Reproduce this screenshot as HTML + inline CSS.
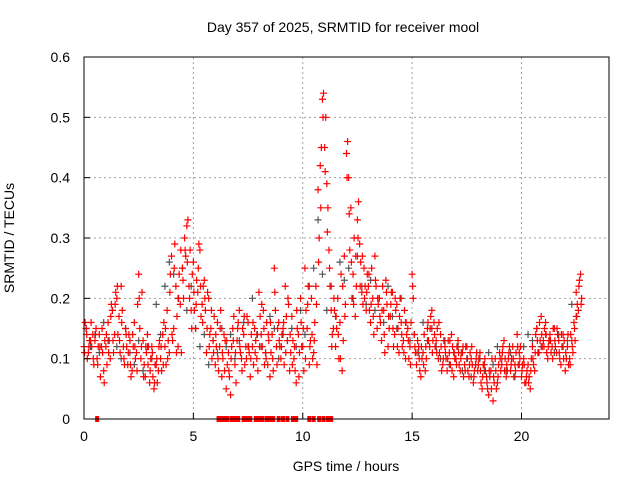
<!DOCTYPE html>
<html><head><meta charset="utf-8"><style>
body{margin:0;background:#fff;}
svg{display:block;font-family:"Liberation Sans",sans-serif;}
</style></head><body>
<svg id="chart" width="640" height="480" viewBox="0 0 640 480">
<rect x="0" y="0" width="640" height="480" fill="#fff"/>
<text x="343" y="32" font-size="14" text-anchor="middle" fill="#000">Day 357 of 2025, SRMTID for receiver mool</text>
<g id="grid"></g>
<g id="gray"></g>
<g id="red"></g>
<rect x="84" y="57" width="525" height="362" fill="none" stroke="#000" stroke-width="1"/>
<g id="ticks"></g>
<text x="14" y="238" font-size="14" text-anchor="middle" transform="rotate(-90 14 238)">SRMTID / TECUs</text>
<text x="346" y="471" font-size="14" text-anchor="middle">GPS time / hours</text>
</svg>
<script>
const xTicks=[0,5,10,15,20];
const yTicks=[0,0.1,0.2,0.3,0.4,0.5,0.6];
const yTickLabels=["0","0.1","0.2","0.3","0.4","0.5","0.6"];
const redA=[0.12,0.15,0.11,0.13,0.14,0.13,0.10,0.14,0.12,0.08,0.12,0.16,0.10,0.18,0.14,0.20,0.17,0.22,0.12,0.15,0.09,0.13,0.08,0.16,0.11,0.24,0.10,0.13,0.07,0.14,0.06,0.12,0.05,0.09,0.08,0.10,0.14,0.12,0.18,0.11,0.27,0.15,0.22,0.12,0.19,0.25,0.30,0.32,0.22,0.18,0.26,0.15,0.21,0.28,0.19,0.23,0.11,0.20,0.15,0.13,0.09,0.16,0.12,0.07,0.14,0.05,0.11,0.04,0.15,0.09,0.13,0.18,0.10,0.14,0.12,0.16,0.07,0.12,0.15,0.10,0.21,0.14,0.18,0.11,0.09,0.07,0.14,0.25,0.12,0.16,0.10,0.15,0.22,0.13,0.08,0.17,0.10,0.06,0.14,0.20,0.12,0.25,0.15,0.09,0.20,0.11,0.22,0.38,0.42,0.53,0.45,0.39,0.28,0.18,0.15,0.12,0.20,0.16,0.08,0.27,0.44,0.40,0.35,0.24,0.17,0.33,0.29,0.21,0.25,0.18,0.22,0.16,0.20,0.27,0.15,0.20,0.13,0.18,0.23,0.12,0.17,0.21,0.14,0.19,0.11,0.16,0.13,0.10,0.15,0.12,0.24,0.14,0.09,0.12,0.07,0.11,0.08,0.15,0.12,0.18,0.16,0.13,0.10,0.14,0.09,0.12,0.08,0.11,0.14,0.07,0.10,0.13,0.08,0.11,0.09,0.12,0.07,0.10,0.06,0.09,0.08,0.11,0.05,0.09,0.07,0.04,0.08,0.03,0.10,0.06,0.11,0.09,0.13,0.07,0.10,0.08,0.12,0.09,0.14,0.11,0.07,0.10,0.06,0.09,0.05,0.12,0.08,0.15,0.11,0.17,0.13,0.16,0.10,0.14,0.12,0.15,0.11,0.13,0.09,0.14,0.08,0.12,0.10,0.13,0.16,0.21,0.18,0.24];
const redB=[0.16,0.10,0.13,0.12,0.09,0.15,0.12,0.07,0.11,0.13,0.09,0.13,0.19,0.11,0.21,0.14,0.11,0.18,0.09,0.12,0.14,0.07,0.12,0.10,0.19,0.15,0.21,0.09,0.11,0.12,0.10,0.07,0.09,0.06,0.13,0.08,0.16,0.09,0.13,0.24,0.13,0.29,0.17,0.24,0.11,0.20,0.27,0.33,0.28,0.24,0.18,0.23,0.29,0.17,0.22,0.18,0.21,0.14,0.10,0.17,0.12,0.08,0.18,0.10,0.13,0.09,0.07,0.12,0.17,0.06,0.16,0.11,0.15,0.09,0.17,0.11,0.14,0.09,0.13,0.08,0.17,0.12,0.09,0.16,0.13,0.11,0.08,0.18,0.15,0.12,0.14,0.09,0.17,0.19,0.11,0.13,0.08,0.15,0.11,0.12,0.08,0.18,0.22,0.13,0.10,0.16,0.09,0.30,0.45,0.54,0.50,0.35,0.22,0.14,0.18,0.15,0.10,0.24,0.13,0.19,0.46,0.28,0.20,0.30,0.22,0.36,0.26,0.19,0.22,0.24,0.18,0.25,0.14,0.22,0.19,0.16,0.22,0.11,0.19,0.15,0.21,0.12,0.18,0.15,0.20,0.12,0.18,0.14,0.10,0.16,0.20,0.11,0.13,0.08,0.10,0.14,0.10,0.13,0.17,0.13,0.12,0.15,0.11,0.08,0.13,0.10,0.13,0.09,0.12,0.10,0.12,0.09,0.11,0.07,0.12,0.08,0.11,0.09,0.08,0.11,0.10,0.06,0.09,0.08,0.05,0.07,0.10,0.06,0.05,0.09,0.08,0.12,0.10,0.08,0.12,0.10,0.07,0.11,0.09,0.12,0.09,0.06,0.08,0.07,0.10,0.09,0.14,0.11,0.13,0.12,0.15,0.11,0.13,0.11,0.15,0.12,0.14,0.10,0.12,0.13,0.10,0.09,0.14,0.11,0.13,0.19,0.23,0.20];
const redC=[0.11,0.14,0.12,0.16,0.10,0.14,0.09,0.12,0.15,0.06,0.14,0.11,0.17,0.13,0.19,0.22,0.13,0.16,0.10,0.14,0.11,0.09,0.14,0.12,0.08,0.20,0.12,0.07,0.12,0.09,0.08,0.11,0.06,0.10,0.12,0.12,0.09,0.15,0.10,0.21,0.14,0.25,0.11,0.20,0.28,0.23,0.28,0.26,0.20,0.15,0.21,0.19,0.25,0.22,0.16,0.20,0.15,0.12,0.18,0.11,0.14,0.10,0.15,0.11,0.08,0.13,0.08,0.10,0.13,0.11,0.15,0.12,0.08,0.17,0.10,0.12,0.10,0.16,0.11,0.14,0.12,0.19,0.15,0.10,0.14,0.16,0.10,0.21,0.09,0.13,0.12,0.16,0.11,0.20,0.14,0.09,0.12,0.18,0.07,0.16,0.15,0.10,0.19,0.12,0.14,0.13,0.19,0.26,0.35,0.50,0.41,0.31,0.25,0.12,0.20,0.17,0.14,0.10,0.22,0.17,0.40,0.34,0.26,0.19,0.27,0.30,0.22,0.27,0.20,0.21,0.24,0.19,0.17,0.23,0.20,0.17,0.18,0.14,0.21,0.17,0.19,0.15,0.20,0.12,0.17,0.14,0.11,0.16,0.13,0.09,0.22,0.12,0.11,0.10,0.12,0.09,0.12,0.16,0.15,0.11,0.14,0.11,0.16,0.12,0.10,0.11,0.10,0.13,0.08,0.11,0.09,0.11,0.10,0.12,0.08,0.10,0.09,0.12,0.07,0.10,0.09,0.08,0.07,0.10,0.06,0.08,0.05,0.07,0.08,0.07,0.10,0.11,0.08,0.09,0.11,0.09,0.10,0.08,0.12,0.10,0.08,0.09,0.07,0.06,0.08,0.10,0.11,0.13,0.16,0.14,0.12,0.14,0.12,0.13,0.10,0.13,0.15,0.11,0.14,0.10,0.11,0.14,0.09,0.12,0.15,0.17,0.22,0.19];
const grayVals=[0.15,0.12,0.14,0.11,0.16,0.13,0.18,0.12,0.10,0.15,0.11,0.09,0.13,0.08,0.12,0.10,0.19,0.14,0.22,0.26,0.24,0.20,0.25,0.18,0.22,0.15,0.12,0.14,0.09,0.13,0.11,0.15,0.12,0.14,0.10,0.13,0.16,0.12,0.20,0.14,0.12,0.11,0.17,0.15,0.10,0.14,0.13,0.15,0.12,0.18,0.14,0.22,0.25,0.33,0.24,0.18,0.22,0.17,0.26,0.23,0.25,0.20,0.27,0.22,0.19,0.23,0.18,0.20,0.16,0.22,0.17,0.15,0.20,0.16,0.13,0.14,0.11,0.16,0.13,0.15,0.12,0.10,0.13,0.09,0.11,0.12,0.08,0.10,0.07,0.09,0.10,0.08,0.11,0.09,0.12,0.10,0.08,0.11,0.07,0.09,0.12,0.14,0.13,0.15,0.12,0.14,0.13,0.11,0.14,0.12,0.13,0.19,0.17];
const zeroHours=[0.6,6.15,6.25,6.4,6.55,6.75,6.9,7.05,7.3,7.45,7.6,7.85,8.0,8.15,8.35,8.5,8.65,8.9,9.1,9.3,9.55,9.7,10.3,10.5,10.75,10.95,11.15,11.3];

const NS="http://www.w3.org/2000/svg";
const X0=84,X1=609,Y0=419,Y1=57;
function sx(h){return X0+(X1-X0)*h/24;}
function sy(v){return Y0-(Y0-Y1)*v/0.6;}
function mk(tag,attrs,parent){const e=document.createElementNS(NS,tag);for(const k in attrs)e.setAttribute(k,attrs[k]);parent.appendChild(e);return e;}
const grid=document.getElementById('grid'),ticks=document.getElementById('ticks');
xTicks.forEach(t=>{
  const x=sx(t);
  if(t>0){const l=mk('line',{x1:x,y1:Y0,x2:x,y2:Y1,stroke:'#a0a0a0','stroke-dasharray':'2,3','stroke-width':1},grid);
  
  }
  const tk=mk('line',{x1:x,y1:Y0,x2:x,y2:Y0-6,stroke:'#000'},ticks);
  
  
  const tx=mk('text',{x:x,y:Y0+22,'font-size':14,'text-anchor':'middle'},ticks);tx.textContent=String(t);
  
  
});
yTicks.forEach((t,i)=>{
  const y=sy(t);
  if(t>0&&t<0.6){const l=mk('line',{x1:X0,y1:y,x2:X1,y2:y,stroke:'#a0a0a0','stroke-dasharray':'2,3','stroke-width':1},grid);
  
  }
  const tk=mk('line',{x1:X0,y1:y,x2:X0+6,y2:y,stroke:'#000'},ticks);
  
  
  const tx=mk('text',{x:X0-14,y:y+5,'font-size':14,'text-anchor':'end'},ticks);tx.textContent=yTickLabels[i];
  
  
});
function plus(h,v,color,parent){
  const x=sx(h),y=sy(v);
  const p=mk('path',{d:`M${x-3.5},${y}H${x+3.5}M${x},${y-3.5}V${y+3.5}`,stroke:color,'stroke-width':1.2,fill:'none'},parent);
  
  
}
const gG=document.getElementById('gray'),gR=document.getElementById('red');
grayVals.forEach((v,i)=>plus(0.1+i*0.2,v,'#555',gG));
redA.forEach((v,i)=>plus(i*0.1,v,'#f00',gR));
redB.forEach((v,i)=>plus(0.05+i*0.1,v,'#f00',gR));
redC.forEach((v,i)=>plus(0.025+i*0.1,v,'#f00',gR));
zeroHours.forEach(h=>{
  const r=mk('rect',{x:sx(h)-2,y:Y0-3,width:4,height:6,fill:'#f00'},gR);
  
  
});
</script>
</body></html>
